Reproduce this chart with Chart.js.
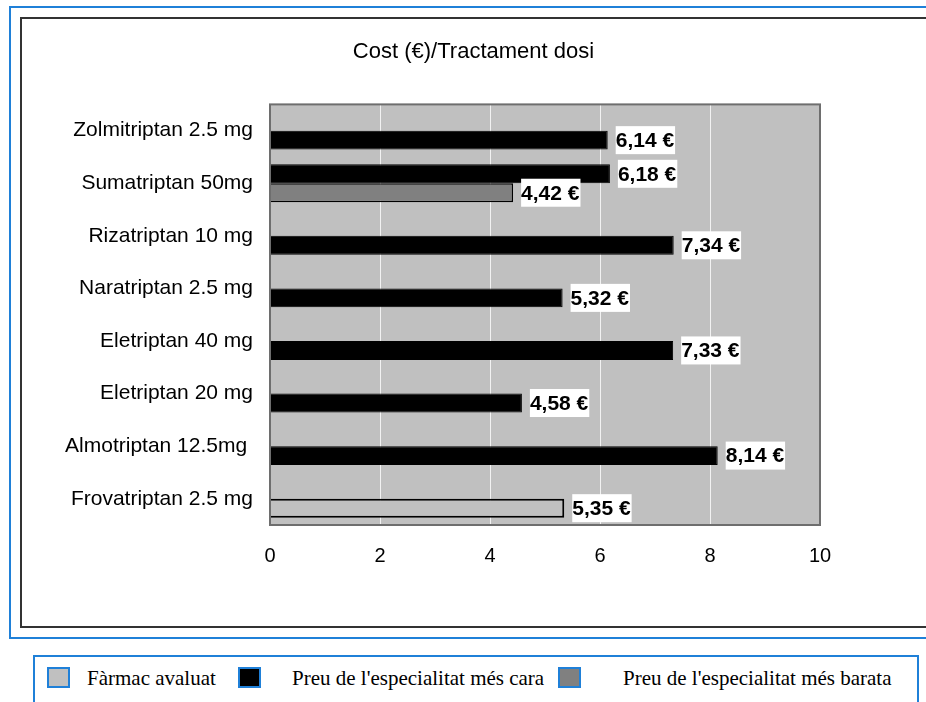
<!DOCTYPE html>
<html>
<head>
<meta charset="utf-8">
<title>Cost (€)/Tractament dosi</title>
<script src="https://cdn.jsdelivr.net/npm/chart.js@4.4.1/dist/chart.umd.min.js"></script>
<style>
	body { margin: 0; background: #fff; width: 926px; height: 702px; overflow: hidden; position: relative; }
	#outer { position: absolute; left: 9px; top: 6px; width: 1000px; height: 629px; border: 2px solid #1f80d8; }
	#inner { position: absolute; left: 20px; top: 17px; width: 1000px; height: 607px; border: 2px solid #333; }
	#chart { position: absolute; left: 0; top: 0; }
	#legend { position: absolute; left: 33px; top: 655px; width: 882px; height: 70px; border: 2px solid #1f80d8; background: #fff;
		font-family: "Liberation Serif", "Times New Roman", serif; font-size: 21px; color: #000; }
	.box { position: absolute; top: 10px; width: 19px; height: 17px; border: 2px solid #1f80d8; }
	.txt { position: absolute; top: 11px; line-height: 21px; white-space: nowrap; }
</style>
</head>
<body>
<div id="outer"></div>
<div id="inner"></div>
<canvas id="chart" width="960" height="702"></canvas>
<div id="legend"></div>

<script>
var categories = [
	"Zolmitriptan 2.5 mg",
	"Sumatriptan 50mg",
	"Rizatriptan 10 mg",
	"Naratriptan 2.5 mg",
	"Eletriptan 40 mg",
	"Eletriptan 20 mg",
	"Almotriptan 12.5mg ",
	"Frovatriptan 2.5 mg"
];

var farmacAvaluat = [null, null, null, null, null, null, null, 5.35];
var preuMesCara   = [6.14, 6.18, 7.34, 5.32, 7.33, 4.58, 8.14, null];
var preuMesBarata = [null, 4.42, null, null, null, null, null, null];

var seriesNames  = ["Fàrmac avaluat", "Preu de l'especialitat més cara", "Preu de l'especialitat més barata"];
var seriesColors = ["#c0c0c0", "#000000", "#808080"];
var xTicks = [0, 2, 4, 6, 8, 10];

// where a cheapest price exists, the dearest one sits in the upper slot
var caraUpper = preuMesCara.map(function (v, i) { return preuMesBarata[i] !== null ? v : null; });
var caraLower = preuMesCara.map(function (v, i) { return preuMesBarata[i] !== null ? null : v; });

var plotFrame = {
	id: "plotFrame",
	beforeDraw: function (chart) {
		var a = chart.chartArea, ctx = chart.ctx;
		ctx.save();
		ctx.fillStyle = "#c0c0c0";
		ctx.fillRect(a.left, a.top, a.right - a.left, a.bottom - a.top);
		ctx.restore();
	},
	afterDatasetsDraw: function (chart) {
		var a = chart.chartArea, ctx = chart.ctx;
		ctx.save();
		ctx.strokeStyle = "#6e6e6e";
		ctx.lineWidth = 2;
		ctx.strokeRect(a.left, a.top, a.right - a.left, a.bottom - a.top);
		ctx.restore();
	}
};

var valueLabels = {
	id: "valueLabels",
	afterDatasetsDraw: function (chart) {
		var ctx = chart.ctx;
		ctx.save();
		ctx.font = 'bold 21px "Liberation Sans", Arial, sans-serif';
		ctx.textBaseline = "middle";
		ctx.textAlign = "left";
		chart.data.datasets.forEach(function (ds, i) {
			var meta = chart.getDatasetMeta(i);
			meta.data.forEach(function (bar, j) {
				var v = ds.data[j];
				if (v === null || v === undefined) return;
				var txt = v.toFixed(2).replace(".", ",") + " €";
				var w = ctx.measureText(txt).width;
				var x = bar.x + 8;
				ctx.fillStyle = "#fff";
				ctx.fillRect(x, bar.y - 14, w + 1, 28);
				ctx.fillStyle = "#000";
				ctx.fillText(txt, x, bar.y + 1);
			});
		});
		ctx.restore();
	}
};

var data1 = {
	labels: categories,
	datasets: [
		{ label: seriesNames[1], data: caraUpper, stack: "up", backgroundColor: seriesColors[1], borderColor: "#000", borderWidth: 1 },
		{ label: seriesNames[0], data: farmacAvaluat, stack: "low", backgroundColor: seriesColors[0], borderColor: "#000", borderWidth: 2 },
		{ label: seriesNames[1], data: caraLower, stack: "low", backgroundColor: seriesColors[1], borderColor: "#000", borderWidth: 1 },
		{ label: seriesNames[2], data: preuMesBarata, stack: "low", backgroundColor: seriesColors[2], borderColor: "#000", borderWidth: 1.5 }
	]
};

var options1 = {
	indexAxis: "y",
	responsive: false,
	animation: false,
	categoryPercentage: 0.72,
	barPercentage: 1.0,
	layout: { padding: { left: 0, right: 13, top: 0, bottom: 115 } },
	plugins: {
		legend: { display: false },
		tooltip: { enabled: false },
		title: {
			display: true,
			text: "Cost (€)/Tractament dosi",
			color: "#000",
			font: { family: '"Liberation Sans", Arial, sans-serif', size: 22, weight: "normal" },
			padding: { top: 39, bottom: 39 }
		}
	},
	scales: {
		x: {
			min: xTicks[0],
			max: xTicks[xTicks.length - 1],
			afterBuildTicks: function (scale) {
				scale.ticks = xTicks.map(function (v) { return { value: v }; });
			},
			grid: { color: "#f2f2f2", lineWidth: 1, drawTicks: false },
			border: { display: false },
			ticks: { color: "#000", padding: 19, font: { family: '"Liberation Sans", Arial, sans-serif', size: 20 } }
		},
		y: {
			afterFit: function (scale) { scale.width = 270; },
			grid: { display: false, drawTicks: false },
			border: { display: false },
			ticks: { color: "#000", padding: 17, font: { family: '"Liberation Sans", Arial, sans-serif', size: 21 } }
		},
		// empty space on the right, as in the original sheet
		spacer: {
			type: "linear",
			position: "right",
			afterFit: function (scale) { scale.width = 127; },
			grid: { display: false },
			border: { display: false },
			ticks: { display: false }
		}
	}
};

var chart1 = new Chart(document.getElementById("chart"), {
	type: "bar",
	data: data1,
	options: options1,
	plugins: [plotFrame, valueLabels]
});

// legend in its own box below the chart
var legendPos = [
	{ box: 12, text: 52 },
	{ box: 203, text: 257 },
	{ box: 523, text: 588 }
];
var legend = document.getElementById("legend");
seriesNames.forEach(function (name, i) {
	var b = document.createElement("div");
	b.className = "box";
	b.style.left = legendPos[i].box + "px";
	b.style.background = seriesColors[i];
	legend.appendChild(b);
	var t = document.createElement("div");
	t.className = "txt";
	t.style.left = legendPos[i].text + "px";
	t.textContent = name;
	legend.appendChild(t);
});
</script>
</body>
</html>
